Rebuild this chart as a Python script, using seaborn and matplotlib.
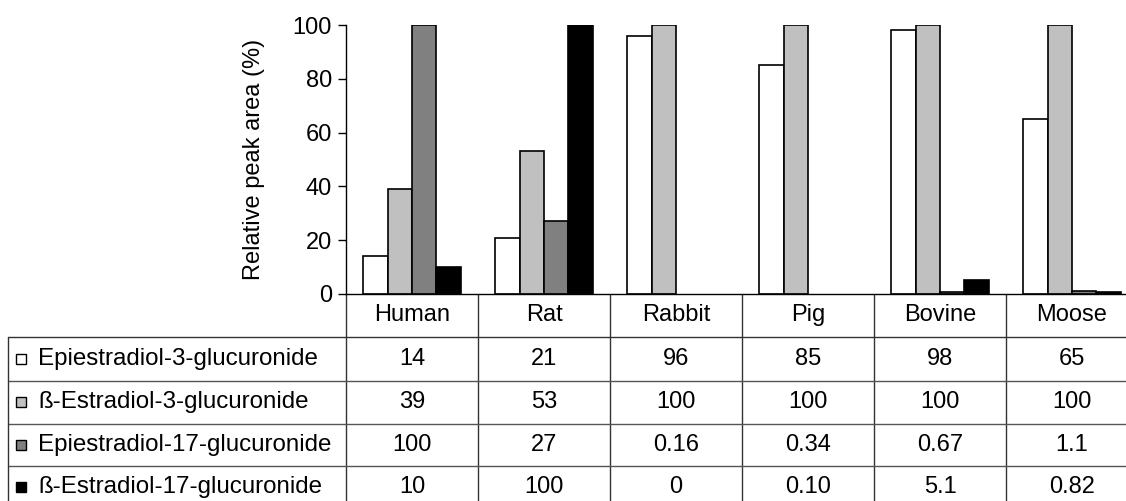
import matplotlib
matplotlib.use("Agg")
import matplotlib.pyplot as plt
from matplotlib import patches, transforms
import pandas as pd
import seaborn as sns

species = ["Human", "Rat", "Rabbit", "Pig", "Bovine", "Moose"]
compounds = ["Epiestradiol-3-glucuronide", "ß-Estradiol-3-glucuronide",
             "Epiestradiol-17-glucuronide", "ß-Estradiol-17-glucuronide"]
epi3 = [14, 21, 96, 85, 98, 65]
beta3 = [39, 53, 100, 100, 100, 100]
epi17 = [100, 27, 0.16, 0.34, 0.67, 1.1]
beta17 = [10, 100, 0, 0.10, 5.1, 0.82]
# values as printed in the data table
table_labels = [
    ["14", "21", "96", "85", "98", "65"],
    ["39", "53", "100", "100", "100", "100"],
    ["100", "27", "0.16", "0.34", "0.67", "1.1"],
    ["10", "100", "0", "0.10", "5.1", "0.82"],
]
colors = ["white", "#C0C0C0", "#808080", "black"]

rows = []
for name, vals in zip(compounds, [epi3, beta3, epi17, beta17]):
    for sp, v in zip(species, vals):
        rows.append({"species": sp, "compound": name, "area": v})
df = pd.DataFrame(rows)

sns.set_theme(style="white")
plt.rcParams["font.family"] = ["Liberation Sans", "DejaVu Sans"]
plt.rcParams["font.size"] = 17
plt.rcParams["text.color"] = "black"
plt.rcParams["axes.labelcolor"] = "black"
plt.rcParams["ytick.color"] = "black"

W, H = 1126, 501
fig = plt.figure(figsize=(W / 100, H / 100), dpi=100)
ax = fig.add_axes([346 / W, 1 - 294 / H, (1138 - 346) / W, (294 - 25) / H])

sns.barplot(data=df, x="species", y="area", hue="compound", order=species,
            hue_order=compounds, palette=colors, edgecolor="black",
            linewidth=1.2, width=0.74, gap=0, legend=False, ax=ax)
# bars thinner than a pixel are not drawn in the original
for p in ax.patches:
    if p.get_height() < 0.5:
        p.set_visible(False)

ax.set_xlim(-0.5, 5.5)
ax.set_ylim(0, 100)
ax.set_yticks([0, 20, 40, 60, 80, 100])
ax.set_xticks([])
ax.set_xlabel("")
ax.set_ylabel("Relative peak area (%)", fontsize=17, labelpad=20)
ax.tick_params(axis="y", left=True, length=6, width=1, color="black",
               labelcolor="black", labelsize=17, pad=4)
for s in ["top", "right"]:
    ax.spines[s].set_visible(False)
for s in ["left", "bottom"]:
    ax.spines[s].set_color("black")
    ax.spines[s].set_linewidth(1)
ax.spines["bottom"].set_zorder(5)

# data table below the axis
def fy(px):
    return 1 - px / H

blend = transforms.blended_transform_factory(ax.transData, fig.transFigure)

for b in [-0.5 + i for i in range(7)]:
    ax.plot([b, b], [fy(294), fy(H + 10)], transform=blend,
            color="#333333", lw=1, clip_on=False)
for yp in [381, 424, 466]:
    fig.add_artist(plt.Line2D([8 / W, 1], [fy(yp), fy(yp)], color="#555555", lw=1))
fig.add_artist(plt.Line2D([8 / W, 1], [fy(337), fy(337)], color="#333333", lw=1))
fig.add_artist(plt.Line2D([8 / W, 8 / W], [fy(337), 0], color="#333333", lw=1))

for i, sp in enumerate(species):
    ax.text(i, fy(315), sp, transform=blend, ha="center", va="center", fontsize=17)

row_centers = [359, 402, 445, 487]
for r, (name, col, labels) in enumerate(zip(compounds, colors, table_labels)):
    yc = fy(row_centers[r])
    fig.add_artist(patches.Rectangle((16 / W, yc - 5 / H), 10 / W, 10 / H,
                                     facecolor=col, edgecolor="black", lw=1,
                                     transform=fig.transFigure))
    fig.text(38 / W, yc, name, ha="left", va="center", fontsize=17.4)
    for i, lab in enumerate(labels):
        ax.text(i, yc, lab, transform=blend, ha="center", va="center", fontsize=17)

fig.savefig("out.png", dpi=100)
